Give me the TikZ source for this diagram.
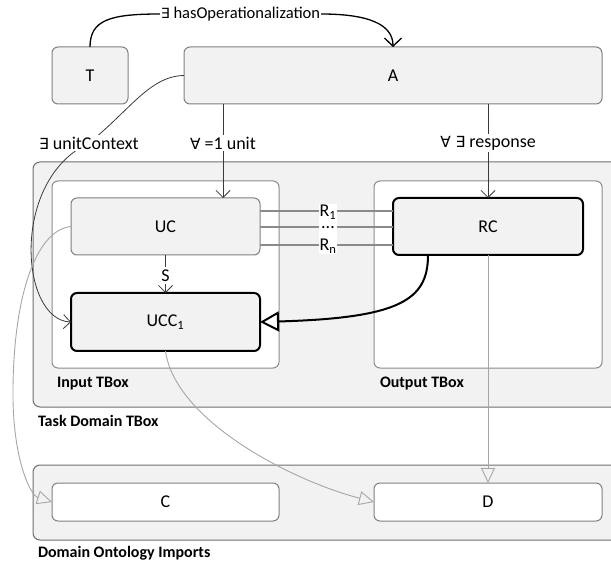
\documentclass[tikz,border=0pt]{standalone}
\usepackage{fontspec}
\setmainfont{Carlito}
\newfontfamily\symf{DejaVu Sans}[Scale=0.85]
\usetikzlibrary{arrows.meta}
\definecolor{boxfill}{HTML}{F2F2F2}
\definecolor{boxdraw}{HTML}{808080}
\definecolor{outerdraw}{HTML}{6E6E6E}
\definecolor{tboxdraw}{HTML}{8C8C8C}
\definecolor{lightline}{HTML}{A6A6A6}
\definecolor{rline}{HTML}{8A8A8A}
\definecolor{darkline}{HTML}{3A3A3A}
\begin{document}
\begin{tikzpicture}[x=1pt,y=-1pt,
  font=\fontsize{18}{21}\selectfont,
  every node/.style={inner sep=0pt, outer sep=0pt},
  graybox/.style={draw=boxdraw, fill=boxfill, rounded corners=6pt, line width=1pt},
  strongbox/.style={draw=black, fill=boxfill, rounded corners=6pt, line width=2pt},
  whitebox/.style={draw=boxdraw, fill=white, rounded corners=6pt, line width=1pt},
  tboxstyle/.style={draw=tboxdraw, fill=white, rounded corners=6pt, line width=1pt},
  outerbox/.style={draw=outerdraw, fill=boxfill, rounded corners=7pt, line width=1pt},
  grouplabel/.style={anchor=west, font=\bfseries\fontsize{16}{19}\selectfont},
  edgelabel/.style={fill=white, inner sep=2pt},
  veetip/.style={-{Straight Barb[length=7pt,width=14pt]}},
  thinline/.style={draw=darkline, line width=0.8pt},
  grayline/.style={draw=lightline, line width=0.9pt, -{Triangle[open,length=15pt,width=14pt]}},
  relline/.style={draw=rline, line width=1.2pt}
]
\useasboundingbox (0,0) rectangle (611,564);
\clip (0,0) rectangle (611,564);

% containers
\node[outerbox, minimum width=620pt, minimum height=245pt] (task) at (343,284.5) {};
\node[outerbox, minimum width=620pt, minimum height=75pt] (dom) at (343,502.5) {};
\node[tboxstyle, minimum width=227pt, minimum height=187pt] (inbox) at (165.5,274.5) {};
\node[tboxstyle, minimum width=228pt, minimum height=187pt] (outbox) at (488,274.5) {};

% boxes
\node[graybox, minimum width=76pt, minimum height=57pt] (T) at (90,75.5) {T};
\node[graybox, minimum width=418pt, minimum height=57pt] (A) at (393,75.5) {A};
\node[graybox, minimum width=189pt, minimum height=57pt] (UC) at (165.5,226.5) {UC};
\node[strongbox, minimum width=190pt, minimum height=57pt] (RC) at (488,226.5) {RC};
\node[strongbox, minimum width=189pt, minimum height=58pt] (UCC) at (165.5,322) {UCC\textsubscript{1}};
\node[whitebox, minimum width=227pt, minimum height=38pt] (C) at (165.5,502) {C};
\node[whitebox, minimum width=228pt, minimum height=38pt] (D) at (488,502) {D};

% group labels
\node[grouplabel] (inlbl) at (57,384) {Input TBox};
\node[grouplabel] (outlbl) at (380,384) {Output TBox};
\node[grouplabel] (tasklbl) at (38,421) {Task Domain TBox};
\node[grouplabel] (domlbl) at (38,553) {Domain Ontology Imports};

% edge labels
\node[inner sep=1pt, font=\fontsize{16.5}{19}\selectfont] (hop) at (240.5,14) {{\symf ∃} hasOperationalization};
\node[edgelabel] (u1) at (223,143) {{\symf ∀} =1 unit};
\node[edgelabel] (rsp) at (488,143) {{\symf ∀ ∃} response};
\node[edgelabel, inner sep=2.5pt] (S) at (165.5,275.5) {S};

% hasOperationalization
\draw[line width=1.3pt] (T.north) .. controls (90,20) and (110,14) .. (hop.west);
\draw[line width=1.3pt, -{Straight Barb[length=8pt,width=17pt]}] (hop.east) .. controls (370,14) and (393,25) .. (A.north);

% unitContext
\coordinate (ucp) at (89,143);
\draw[thinline, veetip] (A.west) .. controls (150,76) and (130,110) .. (ucp) .. controls (10,180) and (20,320) .. (UCC.west);
\node[edgelabel] (ucl) at (ucp) {{\symf ∃} unitContext};

% unit and response
\draw[thinline] (A.south -| u1) -- (u1.north);
\draw[thinline, veetip] (u1.south) -- (UC.north -| u1);
\draw[thinline] (A.south -| rsp) -- (rsp.north);
\draw[thinline, veetip] (rsp.south) -- (RC.north);

% S
\draw[thinline] (UC.south) -- (S.north);
\draw[thinline, veetip] (S.south) -- (UCC.north);

% relations R1 ... Rn
\coordinate (ry1) at (328,211);
\coordinate (ry2) at (328,227);
\coordinate (ry3) at (328,245);
\draw[relline] (UC.east |- ry1) -- (RC.west |- ry1);
\draw[relline] (UC.east |- ry2) -- (RC.west |- ry2);
\draw[relline] (UC.east |- ry3) -- (RC.west |- ry3);
\node[fill=white, inner sep=1pt, anchor=north, align=center,
      font=\fontsize{18}{17}\selectfont] (rels) at (328,204)
  {R\textsubscript{1}\\[-5pt]...\\[5pt]R\textsubscript{n}};

% subclass arrows
\draw[line width=2pt, -{Triangle[open,length=19pt,width=20pt]}] ([xshift=-60pt]RC.south) .. controls (428,300) and (400,318) .. (UCC.east);
\draw[grayline] (UC.west) .. controls (35,230) and (12,300) .. (13,400) .. controls (14,460) and (30,495) .. (C.west);
\draw[grayline] (UCC.south) .. controls (175,420) and (290,480) .. (D.west);
\draw[grayline] (RC.south) -- (D.north);
\end{tikzpicture}
\end{document}
